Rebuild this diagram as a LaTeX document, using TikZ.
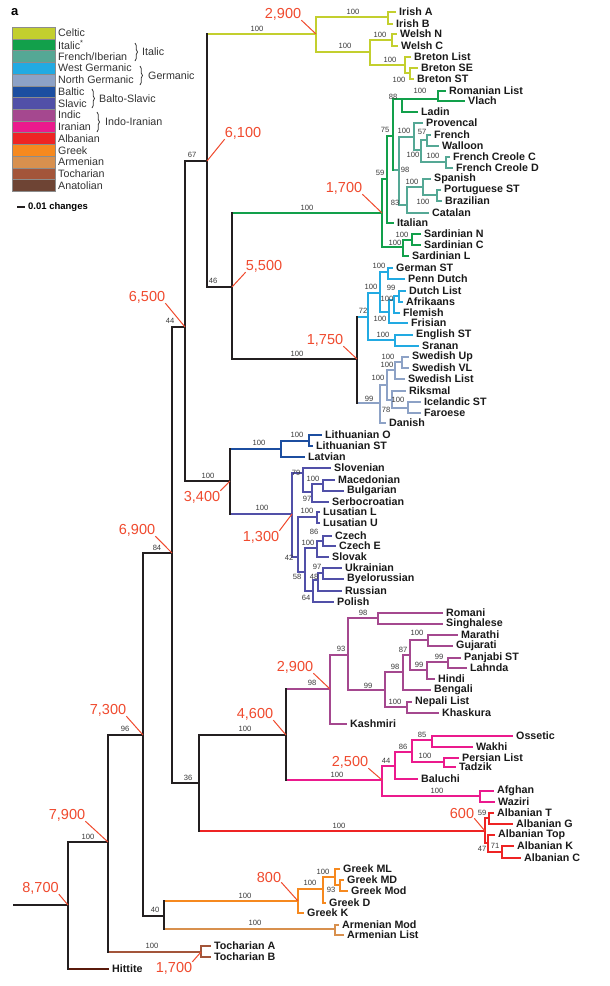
\documentclass[tikz,border=0pt]{standalone}
\usepackage{fontspec}
\setmainfont{Liberation Sans}
\usetikzlibrary{decorations.pathreplacing}
\definecolor{celt}{HTML}{C3CF2E}
\definecolor{ital}{HTML}{12A04B}
\definecolor{frib}{HTML}{55A895}
\definecolor{wger}{HTML}{22AAE2}
\definecolor{nger}{HTML}{8DA2C6}
\definecolor{balt}{HTML}{1C4EA0}
\definecolor{slav}{HTML}{5150A8}
\definecolor{indc}{HTML}{A5488F}
\definecolor{iran}{HTML}{EB1A8D}
\definecolor{albn}{HTML}{EE2424}
\definecolor{grek}{HTML}{F6891F}
\definecolor{armn}{HTML}{D8904E}
\definecolor{toch}{HTML}{A3553A}
\definecolor{anat}{HTML}{6E4434}
\definecolor{hitc}{HTML}{5A1A0C}
\definecolor{datec}{HTML}{F04A2E}
\definecolor{supc}{HTML}{3A3A3A}
\definecolor{trunkc}{HTML}{231F20}
\definecolor{leafc}{HTML}{1A1A1A}
\definecolor{lgc}{HTML}{333333}
\newcommand\lv[4]{\coordinate (#1) at (#2,#3); \node[lf] (#1-t) at (#1) {#4};}
\newcommand\bk[4]{\draw[br,#1] (#3) -| (#2) |- (#4);}
\newcommand\hz[3]{\draw[br,#3] (#1 |- #2) -- (#2);}
\newcommand\vt[4]{\draw[br,#4] (#1 |- #2) -- (#1 |- #3);}
\begin{document}
\begin{tikzpicture}[x=1pt,y=-1pt,
 br/.style={line width=2.9pt,line cap=rect},
 lf/.style={font=\bfseries\fontsize{10.7}{12}\selectfont,anchor=west,inner sep=0pt,xshift=4pt,text=leafc},
 sp/.style={font=\fontsize{7.6}{9}\selectfont,text=supc,inner sep=0pt},
 dt/.style={font=\fontsize{14.5}{16}\selectfont,text=datec,inner sep=0pt},
 ldr/.style={draw=datec,line width=1pt},
 lg/.style={font=\fontsize{10.7}{12}\selectfont,text=lgc,anchor=west,inner sep=0pt},
 sw/.style={draw=black!45,line width=0.5pt,minimum width=43pt,minimum height=11.72pt,anchor=north west,inner sep=0pt},
 brc/.style={draw=lgc,line width=0.7pt,decorate,decoration={brace,amplitude=2.5pt}}]
\path[fill=white] (0,0) rectangle (610,986);
\useasboundingbox (0,0) rectangle (610,986);

% ---------- legend ----------
\node[font=\bfseries\fontsize{13}{14}\selectfont,anchor=west,inner sep=0pt] (pa) at (11,12) {a};
\foreach \c/\t [count=\i from 0] in {celt/Celtic, ital/Italic\textsuperscript{*}, frib/French\slash Iberian, wger/West Germanic, nger/North Germanic, balt/Baltic, slav/Slavic, indc/Indic, iran/Iranian, albn/Albanian, grek/Greek, armn/Armenian, toch/Tocharian, anat/Anatolian}{
  \node[sw,fill=\c] (sw\i) at (12,{27+\i*11.72}) {};
  \node[lg] (lg\i) at (58,{33+\i*11.72}) {\t};
}
\draw[brc] (135,43) -- (135,61);
\node[lg] (bI) at (142,52) {Italic};
\draw[brc] (140,66) -- (140,85);
\node[lg] (bG) at (148,76) {Germanic};
\draw[brc] (92,89) -- (92,108);
\node[lg] (bB) at (99,99) {Balto-Slavic};
\draw[brc] (97,112) -- (97,132);
\node[lg] (bII) at (105,122) {Indo-Iranian};
\coordinate (sb1) at (17,207); \coordinate (sb2) at (25,207);
\draw[line width=2.2pt,trunkc] (sb1) -- (sb2);
\node[font=\bfseries\fontsize{9.5}{11}\selectfont,anchor=west,inner sep=0pt] (sbt) at (28,207) {0.01 changes};

% ---------- trunk coordinates ----------
\coordinate (rs) at (14,905);
\coordinate (R0) at (68,905);
\coordinate (N79) at (108,842);
\coordinate (N73) at (143,735);
\coordinate (N40) at (164,916);
\coordinate (N69) at (172,553);
\coordinate (N65) at (185,327);
\coordinate (N36) at (199,783);
\coordinate (N67) at (207,161);
\coordinate (N5) at (232,287);
\coordinate (BS) at (230,481);
\coordinate (GE) at (357,359);
\coordinate (N46) at (286,735);
\lv{hit}{108}{969}{Hittite}

% Celtic
\coordinate (CE) at (316,34);
\coordinate (IRn) at (388,17);
\coordinate (BW) at (370,52);
\coordinate (WE) at (392,40);
\coordinate (BR) at (405,65);
\coordinate (BSS) at (410,73);
\lv{iA}{395}{12}{Irish A}
\lv{iB}{392}{24}{Irish B}
\lv{wN}{396}{34}{Welsh N}
\lv{wC}{397}{46}{Welsh C}
\lv{bL}{410}{57}{Breton List}
\lv{bSE}{417}{68}{Breton SE}
\lv{bST}{413}{79}{Breton ST}

% Italic
\coordinate (IT) at (382,213);
\coordinate (R59) at (387,179);
\coordinate (R75) at (393,136);
\coordinate (R88) at (402,99);
\coordinate (RV) at (438,99);
\coordinate (R98) at (399,170);
\coordinate (FR) at (414,137);
\coordinate (FWC) at (421,150);
\coordinate (FW) at (427,140);
\coordinate (FC) at (446,162);
\coordinate (IB) at (407,205);
\coordinate (SP) at (423,187);
\coordinate (PB) at (437,195);
\coordinate (SA) at (403,247);
\coordinate (SNC) at (412,240);
\lv{rom}{445}{91}{Romanian List}
\lv{vla}{464}{101}{Vlach}
\lv{lad}{417}{112}{Ladin}
\lv{pro}{422}{123}{Provencal}
\lv{fre}{430}{135}{French}
\lv{wal}{438}{146}{Walloon}
\lv{fcc}{449}{157}{French Creole C}
\lv{fcd}{452}{168}{French Creole D}
\lv{spa}{430}{179}{Spanish}
\lv{por}{440}{190}{Portuguese ST}
\lv{bra}{441}{201}{Brazilian}
\lv{cat}{428}{213}{Catalan}
\lv{ita}{393}{223}{Italian}
\lv{saN}{420}{234}{Sardinian N}
\lv{saC}{420}{245}{Sardinian C}
\lv{saL}{408}{256}{Sardinian L}

% Germanic
\coordinate (WG) at (368,317);
\coordinate (W100) at (380,293);
\coordinate (GP) at (388,272);
\coordinate (X) at (389,312);
\coordinate (DG) at (394,300);
\coordinate (DA) at (399,296);
\coordinate (ES) at (395,340);
\coordinate (NG) at (380,403);
\coordinate (N100) at (387,385);
\coordinate (SW) at (395,370);
\coordinate (SUV) at (402,362);
\coordinate (R78) at (392,400);
\coordinate (IF) at (408,408);
\lv{gST}{392}{268}{German ST}
\lv{pD}{404}{279}{Penn Dutch}
\lv{dL}{405}{291}{Dutch List}
\lv{afr}{402}{302}{Afrikaans}
\lv{flm}{399}{313}{Flemish}
\lv{fri}{407}{323}{Frisian}
\lv{eng}{412}{335}{English ST}
\lv{sra}{418}{346}{Sranan}
\lv{swU}{408}{357}{Swedish Up}
\lv{swV}{408}{368}{Swedish VL}
\lv{swL}{404}{379}{Swedish List}
\lv{rik}{405}{391}{Riksmal}
\lv{ice}{420}{402}{Icelandic ST}
\lv{far}{420}{413}{Faroese}
\lv{dan}{385}{423}{Danish}

% Balto-Slavic
\coordinate (BA) at (281,449);
\coordinate (LI) at (309,441);
\coordinate (SL) at (292,514);
\coordinate (S79) at (303,473);
\coordinate (S97s) at (312,492);
\coordinate (MB) at (323,484);
\coordinate (S42) at (298,557);
\coordinate (LU) at (317,517);
\coordinate (S58) at (305,572);
\coordinate (CS) at (317,548);
\coordinate (CZ) at (323,541);
\coordinate (S64) at (313,591);
\coordinate (S48) at (318,580);
\coordinate (S97e) at (323,573);
\lv{liO}{321}{435}{Lithuanian O}
\lv{liS}{312}{446}{Lithuanian ST}
\lv{lat}{304}{457}{Latvian}
\lv{slo}{330}{468}{Slovenian}
\lv{mac}{334}{480}{Macedonian}
\lv{bul}{343}{491}{Bulgarian}
\lv{ser}{328}{502}{Serbocroatian}
\lv{luL}{319}{512}{Lusatian L}
\lv{luU}{319}{523}{Lusatian U}
\lv{czc}{331}{536}{Czech}
\lv{czE}{335}{546}{Czech E}
\lv{slk}{328}{557}{Slovak}
\lv{ukr}{341}{568}{Ukrainian}
\lv{bye}{343}{579}{Byelorussian}
\lv{rus}{341}{591}{Russian}
\lv{pol}{333}{602}{Polish}

% Indic
\coordinate (IN) at (330,689);
\coordinate (I93) at (348,655);
\coordinate (I98a) at (378,618);
\coordinate (I99) at (385,690);
\coordinate (I98b) at (403,672);
\coordinate (I87) at (410,655);
\coordinate (MG) at (428,640);
\coordinate (I99b) at (427,670);
\coordinate (PL) at (448,662);
\coordinate (NK) at (407,707);
\lv{rmn}{442}{613}{Romani}
\lv{sin}{442}{624}{Singhalese}
\lv{mar}{457}{635}{Marathi}
\lv{guj}{452}{646}{Gujarati}
\lv{pan}{460}{658}{Panjabi ST}
\lv{lah}{466}{668}{Lahnda}
\lv{hin}{434}{679}{Hindi}
\lv{ben}{430}{690}{Bengali}
\lv{nep}{411}{702}{Nepali List}
\lv{kha}{438}{713}{Khaskura}
\lv{kas}{346}{724}{Kashmiri}

% Iranian
\coordinate (IR) at (382,780);
\coordinate (I44) at (395,766);
\coordinate (I86) at (412,752);
\coordinate (I85) at (432,740);
\coordinate (PT) at (444,762);
\coordinate (AW) at (480,796);
\lv{oss}{512}{736}{Ossetic}
\lv{wak}{472}{747}{Wakhi}
\lv{per}{458}{758}{Persian List}
\lv{tad}{455}{767}{Tadzik}
\lv{bal}{417}{779}{Baluchi}
\lv{afg}{493}{791}{Afghan}
\lv{waz}{494}{802}{Waziri}

% Albanian
\coordinate (AL) at (485,831);
\coordinate (A1) at (489,818);
\coordinate (A2) at (488,843);
\coordinate (AK) at (502,852);
\lv{aT}{493}{813}{Albanian T}
\lv{aG}{512}{824}{Albanian G}
\lv{aTop}{494}{835}{Albanian Top}
\lv{aK}{513}{846}{Albanian K}
\lv{aC}{520}{858}{Albanian C}

% Greek, Armenian, Tocharian
\coordinate (GR) at (298,901);
\coordinate (GD) at (323,889);
\coordinate (GM) at (335,877);
\coordinate (GMM) at (340,885);
\coordinate (AR) at (335,929);
\coordinate (TO) at (201,952);
\lv{grML}{339}{869}{Greek ML}
\lv{grMD}{343}{880}{Greek MD}
\lv{grMod}{347}{891}{Greek Mod}
\lv{grD}{325}{903}{Greek D}
\lv{grK}{303}{913}{Greek K}
\lv{arM}{338}{925}{Armenian Mod}
\lv{arL}{343}{935}{Armenian List}
\lv{toA}{210}{946}{Tocharian A}
\lv{toB}{210}{957}{Tocharian B}

% ---------- clade brackets ----------
\bk{celt}{CE}{IRn}{BW} \bk{celt}{IRn}{iA}{iB} \bk{celt}{BW}{WE}{BR}
\bk{celt}{WE}{wN}{wC} \bk{celt}{BR}{bL}{BSS} \bk{celt}{BSS}{bSE}{bST}

\bk{ital}{IT}{R59}{SA} \bk{ital}{R59}{R75}{ita} \bk{ital}{R88}{RV}{lad}
\bk{ital}{RV}{rom}{vla} \bk{ital}{SA}{SNC}{saL} \bk{ital}{SNC}{saN}{saC}
\hz{R75}{R98}{frib} \hz{R75}{R88}{ital} \vt{R75}{R88}{R98}{ital}
\bk{frib}{R98}{FR}{IB} \bk{frib}{FR}{pro}{FWC} \bk{frib}{FWC}{FW}{FC}
\bk{frib}{FW}{fre}{wal} \bk{frib}{FC}{fcc}{fcd} \bk{frib}{IB}{SP}{cat}
\bk{frib}{SP}{spa}{PB} \bk{frib}{PB}{por}{bra}

\bk{wger}{WG}{W100}{ES} \bk{wger}{W100}{GP}{X} \bk{wger}{GP}{gST}{pD}
\bk{wger}{X}{DG}{fri} \bk{wger}{DG}{DA}{flm} \bk{wger}{DA}{dL}{afr}
\bk{wger}{ES}{eng}{sra}
\bk{nger}{NG}{N100}{dan} \bk{nger}{N100}{SW}{R78} \bk{nger}{SW}{SUV}{swL}
\bk{nger}{SUV}{swU}{swV} \bk{nger}{R78}{rik}{IF} \bk{nger}{IF}{ice}{far}

\bk{balt}{BA}{LI}{lat} \bk{balt}{LI}{liO}{liS}
\bk{slav}{SL}{S79}{S42} \bk{slav}{S79}{slo}{S97s} \bk{slav}{S97s}{MB}{ser}
\bk{slav}{MB}{mac}{bul} \bk{slav}{S42}{LU}{S58} \bk{slav}{LU}{luL}{luU}
\bk{slav}{S58}{CS}{S64} \bk{slav}{CS}{CZ}{slk} \bk{slav}{CZ}{czc}{czE}
\bk{slav}{S64}{S48}{pol} \bk{slav}{S48}{S97e}{rus} \bk{slav}{S97e}{ukr}{bye}

\bk{indc}{IN}{I93}{kas} \bk{indc}{I93}{I98a}{I99} \bk{indc}{I98a}{rmn}{sin}
\bk{indc}{I99}{I98b}{NK} \bk{indc}{I98b}{I87}{ben} \bk{indc}{I87}{MG}{I99b}
\bk{indc}{MG}{mar}{guj} \bk{indc}{I99b}{PL}{hin} \bk{indc}{PL}{pan}{lah}
\bk{indc}{NK}{nep}{kha}

\bk{iran}{IR}{I44}{AW} \bk{iran}{I44}{I86}{bal} \bk{iran}{I86}{I85}{PT}
\bk{iran}{I85}{oss}{wak} \bk{iran}{PT}{per}{tad} \bk{iran}{AW}{afg}{waz}

\bk{albn}{AL}{A1}{A2} \bk{albn}{A1}{aT}{aG} \bk{albn}{A2}{aTop}{AK}
\bk{albn}{AK}{aK}{aC}

\bk{grek}{GR}{GD}{grK} \bk{grek}{GD}{GM}{grD} \bk{grek}{GM}{grML}{GMM}
\bk{grek}{GMM}{grMD}{grMod}
\bk{armn}{AR}{arM}{arL}
\bk{toch}{TO}{toA}{toB}

% ---------- trunk ----------
\draw[br,trunkc] (rs) -- (R0);
\hz{R0}{N79}{trunkc} \hz{R0}{hit}{hitc}
\hz{N79}{N73}{trunkc} \hz{N79}{TO}{toch}
\hz{N73}{N69}{trunkc} \hz{N73}{N40}{trunkc}
\hz{N40}{GR}{grek} \hz{N40}{AR}{armn}
\hz{N69}{N65}{trunkc} \hz{N69}{N36}{trunkc}
\hz{N65}{N67}{trunkc} \hz{N65}{BS}{trunkc}
\hz{N67}{CE}{celt} \hz{N67}{N5}{trunkc}
\hz{N5}{IT}{ital} \hz{N5}{GE}{trunkc}
\hz{N36}{N46}{trunkc} \hz{N36}{AL}{albn}
\hz{N46}{IN}{indc} \hz{N46}{IR}{iran}
\hz{BS}{BA}{balt} \hz{BS}{SL}{slav}
\hz{GE}{WG}{wger} \hz{GE}{NG}{nger}
\vt{R0}{N79}{hit}{trunkc}
\vt{N79}{N73}{TO}{trunkc}
\vt{N73}{N69}{N40}{trunkc}
\vt{N40}{GR}{AR}{trunkc}
\vt{N69}{N65}{N36}{trunkc}
\vt{N65}{N67}{BS}{trunkc}
\vt{N67}{CE}{N5}{trunkc}
\vt{N5}{IT}{GE}{trunkc}
\vt{N36}{N46}{AL}{trunkc}
\vt{N46}{IN}{IR}{trunkc}
\vt{BS}{BA}{SL}{trunkc}
\vt{GE}{WG}{NG}{trunkc}

% ---------- support values ----------
\foreach \x/\y/\t [count=\i] in {
 88/837/100, 125/729/96, 157/548/84, 170/321/44, 192/155/67, 213/281/46,
 257/29/100, 307/208/100, 297/354/100, 208/476/100, 259/443/100, 262/508/100,
 188/778/36, 245/729/100, 312/683/98, 337/775/100, 339/826/100, 155/910/40,
 245/896/100, 255/923/100, 152/946/100,
 353/12/100, 345/46/100, 380/35/100, 390/60/100, 399/80/100,
 420/91/100, 393/97/88, 385/130/75, 380/173/59, 404/131/100, 422/132/57,
 413/155/100, 433/156/100, 405/170/98, 412/182/100, 423/202/100, 395/203/83,
 402/235/100, 395/243/100,
 363/311/72, 379/266/100, 371/287/100, 391/288/99, 387/299/100, 380/319/100,
 383/335/100, 388/357/100, 387/365/100, 378/378/100, 369/399/99, 386/410/78,
 398/400/100,
 297/435/100, 296/473/79, 313/479/100, 307/499/97, 307/511/100, 314/532/86,
 308/543/100, 289/558/42, 317/567/97, 314/577/48, 297/577/58, 306/598/64,
 363/613/98, 341/649/93, 417/633/100, 403/650/87, 439/657/99, 395/667/98,
 419/665/99, 368/686/99, 395/702/100,
 422/735/85, 403/747/86, 425/756/100, 386/761/44, 437/791/100,
 482/813/59, 495/846/71, 482/849/47,
 310/883/100, 323/872/100, 331/890/93}{
 \node[sp] (s\i) at (\x,\y) {\t};
}

% ---------- dates ----------
\node[dt] (d1) at (40.5,888) {8,700};  \draw[ldr] (d1.south east) -- (R0);
\node[dt] (d2) at (67,815) {7,900};    \draw[ldr] (d2.south east) -- (N79);
\node[dt] (d3) at (108,710) {7,300};   \draw[ldr] (d3.south east) -- (N73);
\node[dt] (d4) at (137,530) {6,900};   \draw[ldr] (d4.south east) -- (N69);
\node[dt] (d5) at (147,297) {6,500};   \draw[ldr] (d5.south east) -- (N65);
\node[dt] (d6) at (243,133) {6,100};   \draw[ldr] (d6.south west) -- (N67);
\node[dt] (d7) at (264,266) {5,500};   \draw[ldr] (d7.south west) -- (N5);
\node[dt] (d8) at (283,14) {2,900};    \draw[ldr] (d8.south east) -- (CE);
\node[dt] (d9) at (344,188) {1,700};   \draw[ldr] (d9.south east) -- (IT);
\node[dt] (d10) at (325,340) {1,750};  \draw[ldr] (d10.south east) -- (GE);
\node[dt] (d11) at (202,497) {3,400};  \draw[ldr] (d11.north east) -- (BS);
\node[dt] (d12) at (261,537) {1,300};  \draw[ldr] (d12.north east) -- (SL);
\node[dt] (d13) at (255,714) {4,600};  \draw[ldr] (d13.south east) -- (N46);
\node[dt] (d14) at (295,667) {2,900};  \draw[ldr] (d14.south east) -- (IN);
\node[dt] (d15) at (350,762) {2,500};  \draw[ldr] (d15.south east) -- (IR);
\node[dt] (d16) at (462,813) {600};    \draw[ldr] (d16.south east) -- (AL);
\node[dt] (d17) at (269,877) {800};    \draw[ldr] (d17.south east) -- (GR);
\node[dt] (d18) at (174,968) {1,700};  \draw[ldr] (d18.north east) -- (TO);
\end{tikzpicture}
\end{document}
